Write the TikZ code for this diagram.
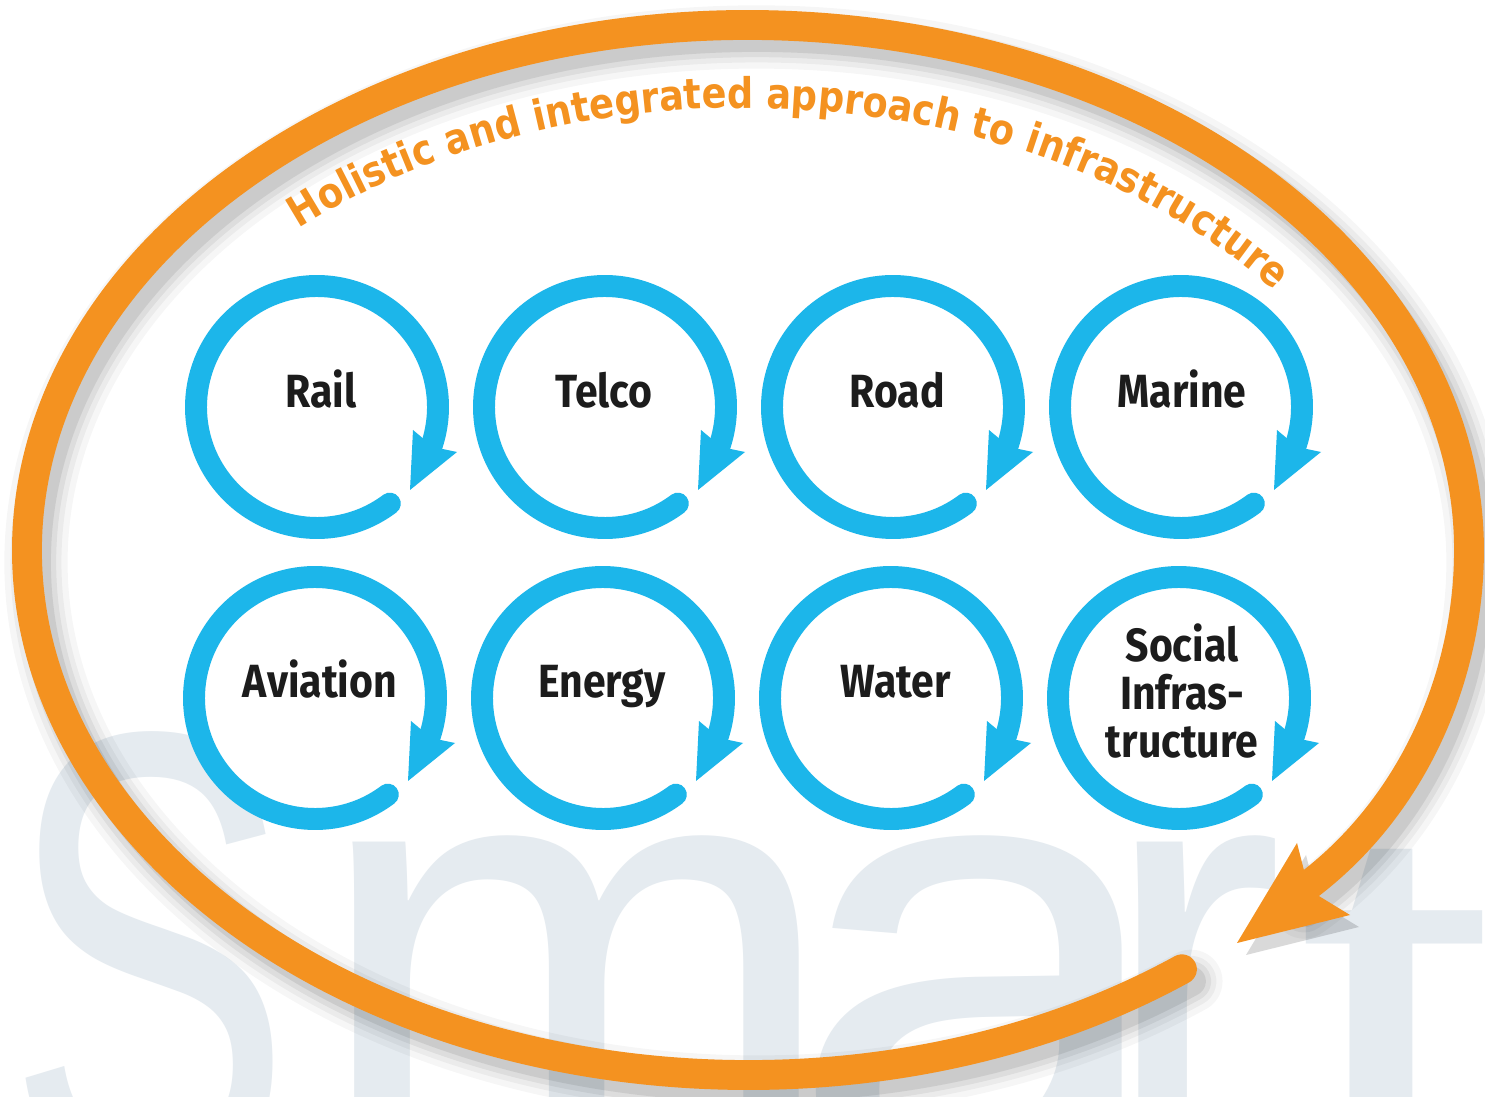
\documentclass[tikz,border=0pt]{standalone}
\usepackage{fontspec}
\usetikzlibrary{decorations.text}
\newfontfamily\lblfont{Fira Sans}[FakeStretch=0.88]
\newfontfamily\arcfont{DejaVu Sans}[FakeStretch=0.87]
\newfontfamily\smartfont{Liberation Sans}
\definecolor{ringorange}{RGB}{244,146,32}
\definecolor{ringblue}{RGB}{28,182,234}
\definecolor{smartgray}{RGB}{229,235,240}
\definecolor{lbltext}{RGB}{28,28,28}
\tikzset{
  lbl/.style={font=\lblfont\bfseries\fontsize{26.5}{27.5}\selectfont, text=lbltext, align=center, inner sep=0pt},
  smartletter/.style={font=\smartfont\fontsize{370}{370}\selectfont, text=smartgray, anchor=base west, inner sep=0pt},
  orangeline/.style={draw=ringorange, line width=17pt, line cap=round},
  blueline/.style={draw=ringblue, line width=12.5pt, line cap=round},
}
\newcommand\cyclering[3]{%
  \begin{scope}[shift={(#2,-#3)}]
    \coordinate (#1) at (0,0);
    \fill[white] (#1) circle[radius=121];
    \draw[blueline] (-53:121) arc[start angle=-53, end angle=-380, radius=121];
    \fill[ringblue] (93,-83) -- (140,-45) -- (-19:123) -- (96,-23) -- cycle;
  \end{scope}}
\begin{document}
\begin{tikzpicture}[x=0.02cm, y=0.02cm]
\useasboundingbox (0,0) rectangle (1485,-1097);
\clip (0,0) rectangle (1485,-1097);
\fill[white] (0,0) rectangle (1485,-1097);
% background word
\node[smartletter, xscale=0.66] (sS) at (6,-1185) {S};
\node[smartletter, xscale=0.98] (sm) at (310,-1185) {m};
\node[smartletter, xscale=1.08] (sa) at (786,-1185) {a};
\node[smartletter, xscale=0.85] (sr) at (1100,-1185) {r};
\node[smartletter, xscale=1.1, yscale=0.8] (st) at (1295,-1185) {t};
% shadow of the big arrow
\begin{scope}[shift={(9,-12)}]
\foreach \w/\o in {36pt/0.035, 29pt/0.045, 23pt/0.06, 17pt/0.08}{
  \draw[black, opacity=\o, line width=\w, line cap=round] (748,-550) ++(-53:721 and 525)
    arc[start angle=-53, end angle=-360, x radius=721, y radius=525]
    .. controls (1469,-680) and (1410,-815) .. (1295,-895);
}
\fill[black, opacity=0.15] (1237,-943) -- (1297,-843) -- (1309,-890) -- (1350,-915) -- cycle;
\end{scope}
% big orange arrow
\draw[orangeline] (748,-550) ++(-53:721 and 525)
  arc[start angle=-53, end angle=-360, x radius=721, y radius=525]
  .. controls (1469,-680) and (1410,-815) .. (1295,-895);
\fill[ringorange] (1237,-943) -- (1297,-843) -- (1309,-890) -- (1350,-915) -- cycle;
% curved title
\path[decorate, decoration={text along path, text align=left,
  text={|\arcfont\bfseries\fontsize{24}{24}\selectfont\color{ringorange}|Holistic and integrated approach to infrastructure}}]
  (745,-600) ++(131:680 and 492) arc[start angle=131, end angle=28, x radius=680, y radius=492];
% cycles
\cyclering{c1}{317}{407}
\cyclering{c2}{605}{407}
\cyclering{c3}{893}{407}
\cyclering{c4}{1181}{407}
\cyclering{c5}{315}{698}
\cyclering{c6}{603}{698}
\cyclering{c7}{891}{698}
\cyclering{c8}{1179}{698}
\node[lbl, anchor=base] (rail) at (321,-408) {Rail};
\node[lbl, anchor=base] (telco) at (604,-408) {Telco};
\node[lbl, anchor=base] (road) at (897,-408) {Road};
\node[lbl, anchor=base] (marine) at (1182,-408) {Marine};
\node[lbl, anchor=base] (aviation) at (320,-698) {Aviation};
\node[lbl, anchor=base] (energy) at (602,-698) {Energy};
\node[lbl, anchor=base] (water) at (896,-698) {Water};
\node[lbl] (social) at (1182,-691) {Social\\Infras-\\tructure};
\end{tikzpicture}
\end{document}
